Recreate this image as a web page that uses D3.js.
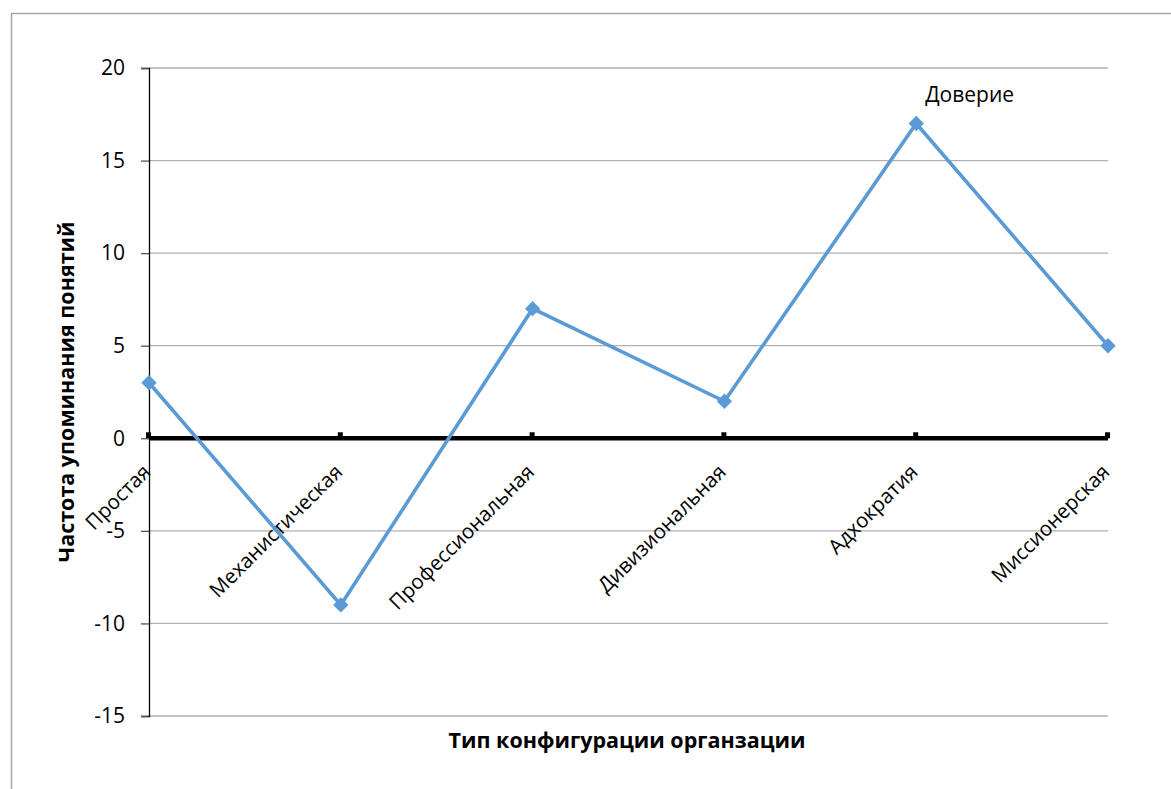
<!DOCTYPE html>
<html>
<head>
<meta charset="utf-8">
<script src="https://cdn.jsdelivr.net/npm/d3@7"></script>
<style>
  body { margin: 0; background: #fff; }
  text { font-family: "Open Sans", "Noto Sans", sans-serif; fill: #000; }
</style>
</head>
<body>
<svg id="chart" width="1171" height="789"></svg>
<script>
const categories = ["Простая", "Механистическая", "Профессиональная", "Дивизиональная", "Адхократия", "Миссионерская"];
const values = [3, -9, 7, 2, 17, 5];
const yTicks = [-15, -10, -5, 0, 5, 10, 15, 20];
const seriesName = "Доверие";

const svg = d3.select("#chart");
const M = { left: 149, right: 1108, top: 68, bottom: 716 };

// outer frame
svg.append("rect")
  .attr("x", 11.5).attr("y", 13.5)
  .attr("width", 1200).attr("height", 800)
  .attr("fill", "none").attr("stroke", "#a6a6a6").attr("stroke-width", 1.5);

const x = d3.scalePoint().domain(categories).range([M.left, M.right]);
const y = d3.scaleLinear().domain([-15, 20]).range([M.bottom, M.top]);

// gridlines
svg.append("g")
  .selectAll("line")
  .data(yTicks)
  .join("line")
  .attr("x1", M.left).attr("x2", M.right)
  .attr("y1", d => y(d)).attr("y2", d => y(d))
  .attr("stroke", "#b0b0b0").attr("stroke-width", 1.3);

// y axis
const yAxis = svg.append("g")
  .attr("transform", `translate(${M.left},0)`)
  .call(d3.axisLeft(y).tickValues(yTicks).tickSize(8).tickPadding(16).tickFormat(d => String(d)));
yAxis.select(".domain").attr("stroke", "#000").attr("stroke-width", 1.3);
yAxis.selectAll(".tick line").attr("stroke", "#555").attr("stroke-width", 1.3);
yAxis.selectAll(".tick text").style("font-size", "21px").attr("fill", "#000");

// zero axis (category axis)
const xAxis = svg.append("g").attr("transform", `translate(0,${y(0)})`);
xAxis.append("line")
  .attr("x1", M.left).attr("x2", M.right)
  .attr("stroke", "#000").attr("stroke-width", 4.5);
xAxis.selectAll("rect.tick")
  .data(categories)
  .join("rect")
  .attr("class", "tick")
  .attr("x", d => x(d) - 3).attr("y", -6)
  .attr("width", 5).attr("height", 6)
  .attr("fill", "#000");
xAxis.selectAll("text")
  .data(categories)
  .join("text")
  .attr("transform", d => `translate(${x(d) - 8},${24}) rotate(-45)`)
  .attr("text-anchor", "end")
  .attr("dy", "0.75em")
  .style("font-size", "20.5px")
  .text(d => d);

// series line
const pts = categories.map((c, i) => ({ c, v: values[i] }));
svg.append("path")
  .datum(pts)
  .attr("fill", "none")
  .attr("stroke", "#5b9bd5")
  .attr("stroke-width", 3.6)
  .attr("d", d3.line().x(d => x(d.c)).y(d => y(d.v)));

svg.append("g")
  .selectAll("path")
  .data(pts)
  .join("path")
  .attr("transform", d => `translate(${x(d.c)},${y(d.v)})`)
  .attr("d", d3.symbol(d3.symbolDiamond2, 150))
  .attr("fill", "#5b9bd5");

// series label next to the peak
const peak = pts[d3.maxIndex(pts, d => d.v)];
svg.append("text")
  .attr("x", x(peak.c) + 9)
  .attr("y", y(peak.v) - 22)
  .style("font-size", "21px")
  .text(seriesName);

// axis titles
svg.append("text")
  .attr("x", 627)
  .attr("y", 748)
  .attr("text-anchor", "middle")
  .style("font-size", "21.5px").style("font-weight", "bold")
  .text("Тип конфигурации органзации");

svg.append("text")
  .attr("transform", `translate(74,${392}) rotate(-90)`)
  .attr("text-anchor", "middle")
  .style("font-size", "21.5px").style("font-weight", "bold")
  .text("Частота упоминания понятий");
</script>
</body>
</html>
